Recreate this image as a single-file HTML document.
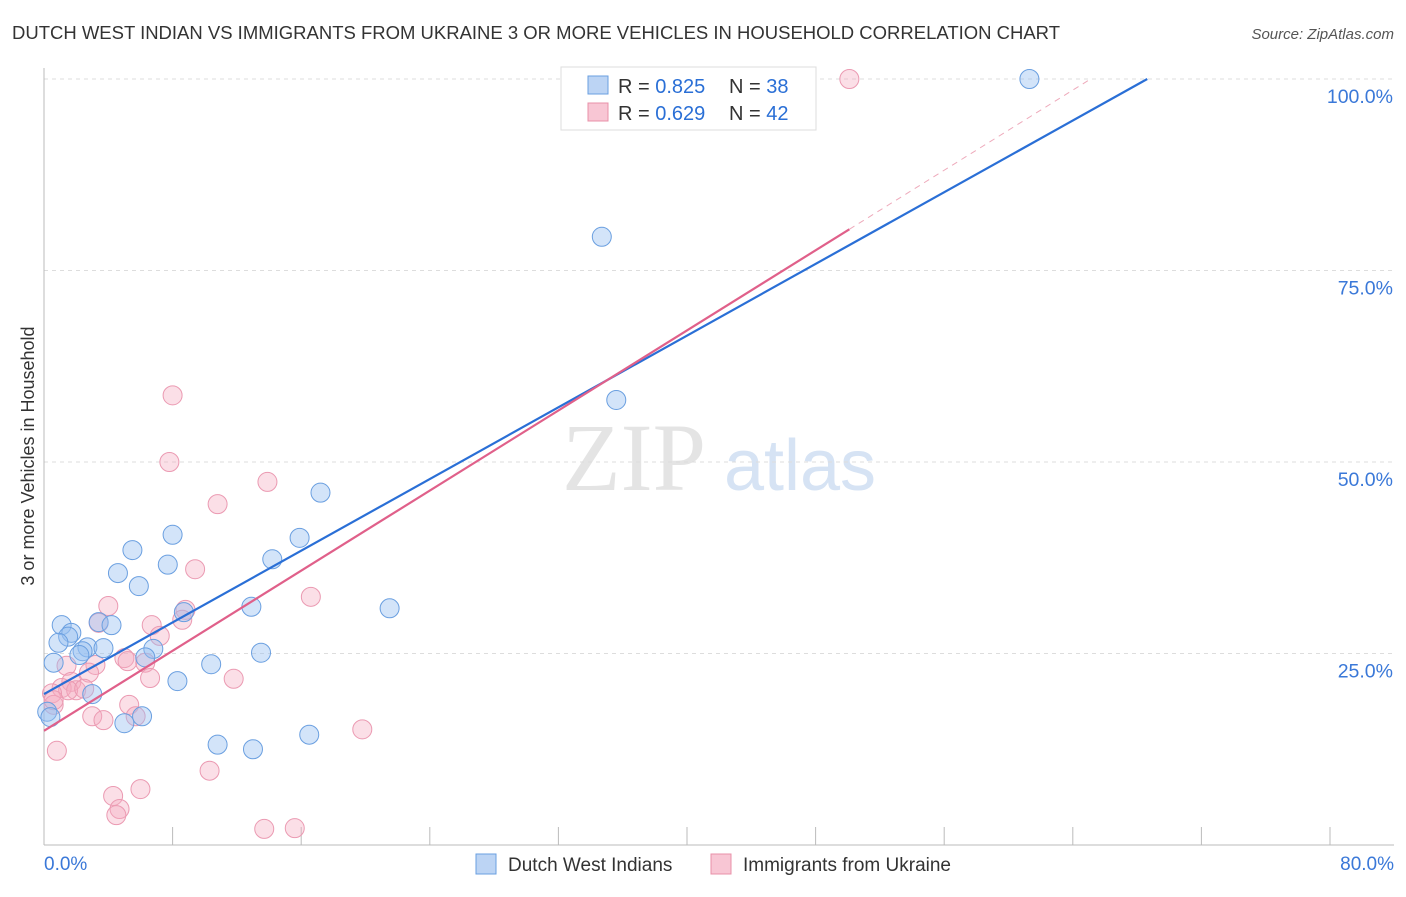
<!DOCTYPE html>
<html><head><meta charset="utf-8"><style>
body{margin:0;background:#fff;width:1406px;height:892px;overflow:hidden;font-family:"Liberation Sans",sans-serif}
</style></head><body>
<svg id="c" width="1406" height="892" xmlns="http://www.w3.org/2000/svg">
<text x="12" y="39" font-size="18" fill="#333" textLength="1048" lengthAdjust="spacingAndGlyphs">DUTCH WEST INDIAN VS IMMIGRANTS FROM UKRAINE 3 OR MORE VEHICLES IN HOUSEHOLD CORRELATION CHART</text>
<text x="1394" y="39" font-size="15" fill="#555" font-style="italic" text-anchor="end">Source: ZipAtlas.com</text>
<text x="634" y="490" font-size="96" fill="#e4e4e4" font-family="Liberation Serif,serif" text-anchor="middle">ZIP</text>
<text x="800" y="490" font-size="72" fill="#d6e3f4" text-anchor="middle">atlas</text>
<text transform="translate(34,456) rotate(-90)" font-size="18" fill="#333" text-anchor="middle">3 or more Vehicles in Household</text>
<g id="grid"></g><g id="pts"></g><g id="lines"></g>
<g>
<rect x="561" y="67" width="255" height="63" fill="#fff" stroke="#ddd"/>
<rect x="588" y="76" width="20" height="18" fill="#bcd4f4" stroke="#6a9fe0"/>
<rect x="588" y="103" width="20" height="18" fill="#f8c6d4" stroke="#e890a8"/>
<text x="618" y="93" font-size="20" fill="#333">R = <tspan fill="#2a6fd6">0.825</tspan></text>
<text x="729" y="93" font-size="20" fill="#333">N = <tspan fill="#2a6fd6">38</tspan></text>
<text x="618" y="120" font-size="20" fill="#333">R = <tspan fill="#2a6fd6">0.629</tspan></text>
<text x="729" y="120" font-size="20" fill="#333">N = <tspan fill="#2a6fd6">42</tspan></text>
</g>
<g>
<rect x="476" y="854" width="20" height="20" fill="#bcd4f4" stroke="#6a9fe0"/>
<text x="508" y="871" font-size="19" fill="#333">Dutch West Indians</text>
<rect x="711" y="854" width="20" height="20" fill="#f8c6d4" stroke="#e890a8"/>
<text x="743" y="871" font-size="19" fill="#333">Immigrants from Ukraine</text>
</g>
</svg>
<script>
const xTicks=[0,80];
const yTicks=[25,50,75,100];
const blueX=[61.3,34.7,35.6,17.2,8.0,15.9,5.5,14.2,7.7,4.6,5.9,12.9,21.5,8.7,3.4,4.2,1.1,1.7,1.5,0.9,2.7,3.7,2.4,2.2,6.8,6.3,13.5,0.6,10.4,8.3,3.0,0.2,6.1,5.0,10.8,13.0,16.5,0.4];
const blueY=[100,79.4,58.1,46.0,40.5,40.1,38.5,37.3,36.6,35.5,33.8,31.1,30.9,30.4,29.1,28.7,28.7,27.7,27.2,26.4,25.8,25.7,25.3,24.8,25.6,24.5,25.1,23.8,23.6,21.4,19.7,17.4,16.8,15.9,13.1,12.5,14.4,16.7];
const pinkX=[50.1,8.0,7.8,10.8,13.9,9.4,16.6,4.0,8.8,6.7,8.6,7.2,3.4,5.0,3.2,1.4,5.2,6.3,2.8,1.7,1.1,2.0,1.5,2.5,11.8,6.6,0.5,0.6,5.3,5.7,3.0,3.7,19.8,0.8,10.3,4.3,6.0,4.7,4.5,13.7,15.6,0.6];
const pinkY=[100,58.7,50.0,44.5,47.4,36.0,32.4,31.2,30.7,28.7,29.4,27.3,29.0,24.4,23.5,23.4,24.0,23.8,22.5,21.3,20.5,20.2,20.2,20.4,21.7,21.8,19.8,18.3,18.3,16.8,16.8,16.3,15.1,12.3,9.7,6.4,7.3,4.7,3.9,2.1,2.2,18.9];
const blueFit=[19.7,1.17];
const pinkFit=[14.9,1.307];
const NS='http://www.w3.org/2000/svg';
const X=v=>44+v/80*1286, Y=v=>845-v/100*766;
function mk(p,t,a){const e=document.createElementNS(NS,t);for(const k in a)e.setAttribute(k,a[k]);p.appendChild(e);return e;}
const grid=document.getElementById('grid');
yTicks.forEach(t=>{
 const l=mk(grid,'line',{x1:44,x2:1394,y1:Y(t),y2:Y(t),stroke:'#ddd','stroke-dasharray':'4,4'});
 
 
 const tx=mk(grid,'text',{x:1393,y:Y(t)+24,'font-size':19.5,fill:'#3a78d8','text-anchor':'end'});tx.textContent=t.toFixed(1)+'%';
 
 
});
mk(grid,'line',{x1:44,x2:44,y1:68,y2:845,stroke:'#bbb'});
mk(grid,'line',{x1:44,x2:1394,y1:845,y2:845,stroke:'#bbb'});
for(let i=1;i<=10;i++){mk(grid,'line',{x1:X(i*8),x2:X(i*8),y1:827,y2:845,stroke:'#bbb'});}
xTicks.forEach((t,i)=>{
 const tx=mk(grid,'text',{x:i?1394:44,y:870,'font-size':19,fill:'#3a78d8','text-anchor':i?'end':'start'});tx.textContent=t.toFixed(1)+'%';
 
 
});
const pts=document.getElementById('pts');
pinkX.forEach((x,i)=>{const c=mk(pts,'circle',{cx:X(x),cy:Y(pinkY[i]),r:9.5,fill:'rgba(244,170,192,0.38)',stroke:'#eb9ab2','stroke-width':1});
 
 });
blueX.forEach((x,i)=>{const c=mk(pts,'circle',{cx:X(x),cy:Y(blueY[i]),r:9.5,fill:'rgba(150,190,240,0.42)',stroke:'#6a9fe0','stroke-width':1});
 
 });
const lines=document.getElementById('lines');
const bx=(100-blueFit[0])/blueFit[1];
const bl=mk(lines,'line',{x1:X(0),y1:Y(blueFit[0]),x2:X(bx),y2:Y(100),stroke:'#2a6fd6','stroke-width':2.2});


const pEnd=50.1, px=(100-pinkFit[0])/pinkFit[1];
const pl=mk(lines,'line',{x1:X(0),y1:Y(pinkFit[0]),x2:X(pEnd),y2:Y(pinkFit[0]+pinkFit[1]*pEnd),stroke:'#e0608a','stroke-width':2.2});


const pd=mk(lines,'line',{x1:X(pEnd),y1:Y(pinkFit[0]+pinkFit[1]*pEnd),x2:X(px),y2:Y(100),stroke:'#eeaabb','stroke-width':1,'stroke-dasharray':'6,5'});


</script>
</body></html>
